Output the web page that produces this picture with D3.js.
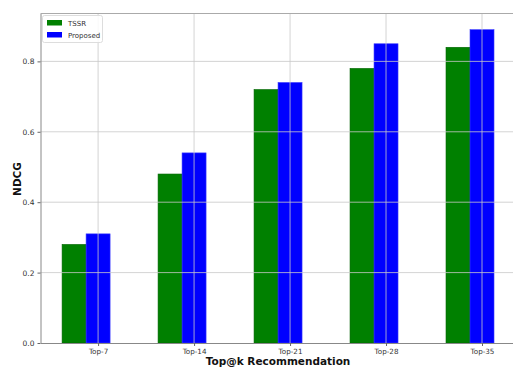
<!DOCTYPE html>
<html><head><meta charset="utf-8">
<script src="https://cdn.jsdelivr.net/npm/d3@7"></script>
<style>body{margin:0;background:#fff}svg{display:block}</style>
</head><body>
<script>
const categories = ["Top-7","Top-14","Top-21","Top-28","Top-35"];
const seriesNames = ["TSSR","Proposed"];
const tssr = [0.28,0.48,0.72,0.78,0.84];
const proposed = [0.31,0.54,0.74,0.85,0.89];
const yTicks = [0.0,0.2,0.4,0.6,0.8];
const colors = ["#008000","#0000ff"];

(function(){
const W=513,H=368;
const svg=d3.select("body").append("svg").attr("width",W).attr("height",H);
const pl=40.5, pt=13.5, pb=343;
const x=d3.scaleLinear().domain([-0.6,4.35]).range([pl,515.6]);
const y=d3.scaleLinear().domain([0,0.936]).range([pb,pt]);
const bw=0.25;
const font="DejaVu Sans, sans-serif";

const series=[tssr,proposed];
series.forEach((vals,s)=>{
  svg.append("g").selectAll("rect").data(vals).join("rect")
    .attr("x",(d,i)=>x(i+(s===0?-0.375:-0.125)))
    .attr("width",x(bw)-x(0))
    .attr("y",d=>y(d))
    .attr("height",d=>y(0)-y(d))
    .attr("fill",colors[s])
    .attr("stroke",s===0?"#006400":"#3a3aff").attr("stroke-width",0.6);
});

const g=svg.append("g");
categories.forEach((c,i)=>{
  g.append("line").attr("x1",x(i)).attr("x2",x(i)).attr("y1",pt).attr("y2",pb)
   .attr("stroke","#c8c8c8").attr("stroke-width",0.8);
});
yTicks.forEach(t=>{
  if(t===0) return;
  g.append("line").attr("x1",pl).attr("x2",W).attr("y1",y(t)).attr("y2",y(t))
   .attr("stroke","#c8c8c8").attr("stroke-width",0.8);
});

const xa=d3.axisBottom(x).tickValues(d3.range(categories.length)).tickFormat(i=>categories[i]).tickSize(3).tickSizeOuter(0);
const ya=d3.axisLeft(y).tickValues(yTicks).tickFormat(d3.format(".1f")).tickSize(3).tickSizeOuter(0);
const gx=svg.append("g").attr("transform",`translate(0,${pb})`).call(xa);
const gy=svg.append("g").attr("transform",`translate(${pl},0)`).call(ya);
[gx,gy].forEach(a=>{
  a.select(".domain").attr("stroke","#888").attr("stroke-width",1);
  a.selectAll(".tick line").attr("stroke","#666");
  a.selectAll(".tick text").attr("font-family",font).attr("font-size",7.5).attr("fill","#333");
});
gx.selectAll(".tick text").attr("dy","0.75em").attr("font-size",7.2);
svg.append("line").attr("x1",pl).attr("x2",W).attr("y1",pt).attr("y2",pt).attr("stroke","#aaa").attr("stroke-width",1);

svg.append("text").attr("x",278).attr("y",365).attr("text-anchor","middle")
  .attr("font-family",font).attr("font-weight","bold").attr("font-size",10.5).attr("fill","#111")
  .text("Top@k Recommendation");
svg.append("text").attr("transform",`translate(21,179) rotate(-90)`).attr("text-anchor","middle")
  .attr("font-family",font).attr("font-weight","bold").attr("font-size",10.5).attr("fill","#111")
  .text("NDCG");

const lg=svg.append("g");
lg.append("rect").attr("x",42.5).attr("y",15.5).attr("width",60).attr("height",27)
  .attr("fill","#fff").attr("fill-opacity",0.85).attr("stroke","#ddd").attr("rx",2);
seriesNames.forEach((n,i)=>{
  lg.append("rect").attr("x",47).attr("y",20+i*12).attr("width",15).attr("height",5.5).attr("fill",colors[i]);
  lg.append("text").attr("x",68).attr("y",25.5+i*12).attr("font-family",font).attr("font-size",7)
    .attr("fill","#333").text(n);
});
})();
</script>
</body></html>
